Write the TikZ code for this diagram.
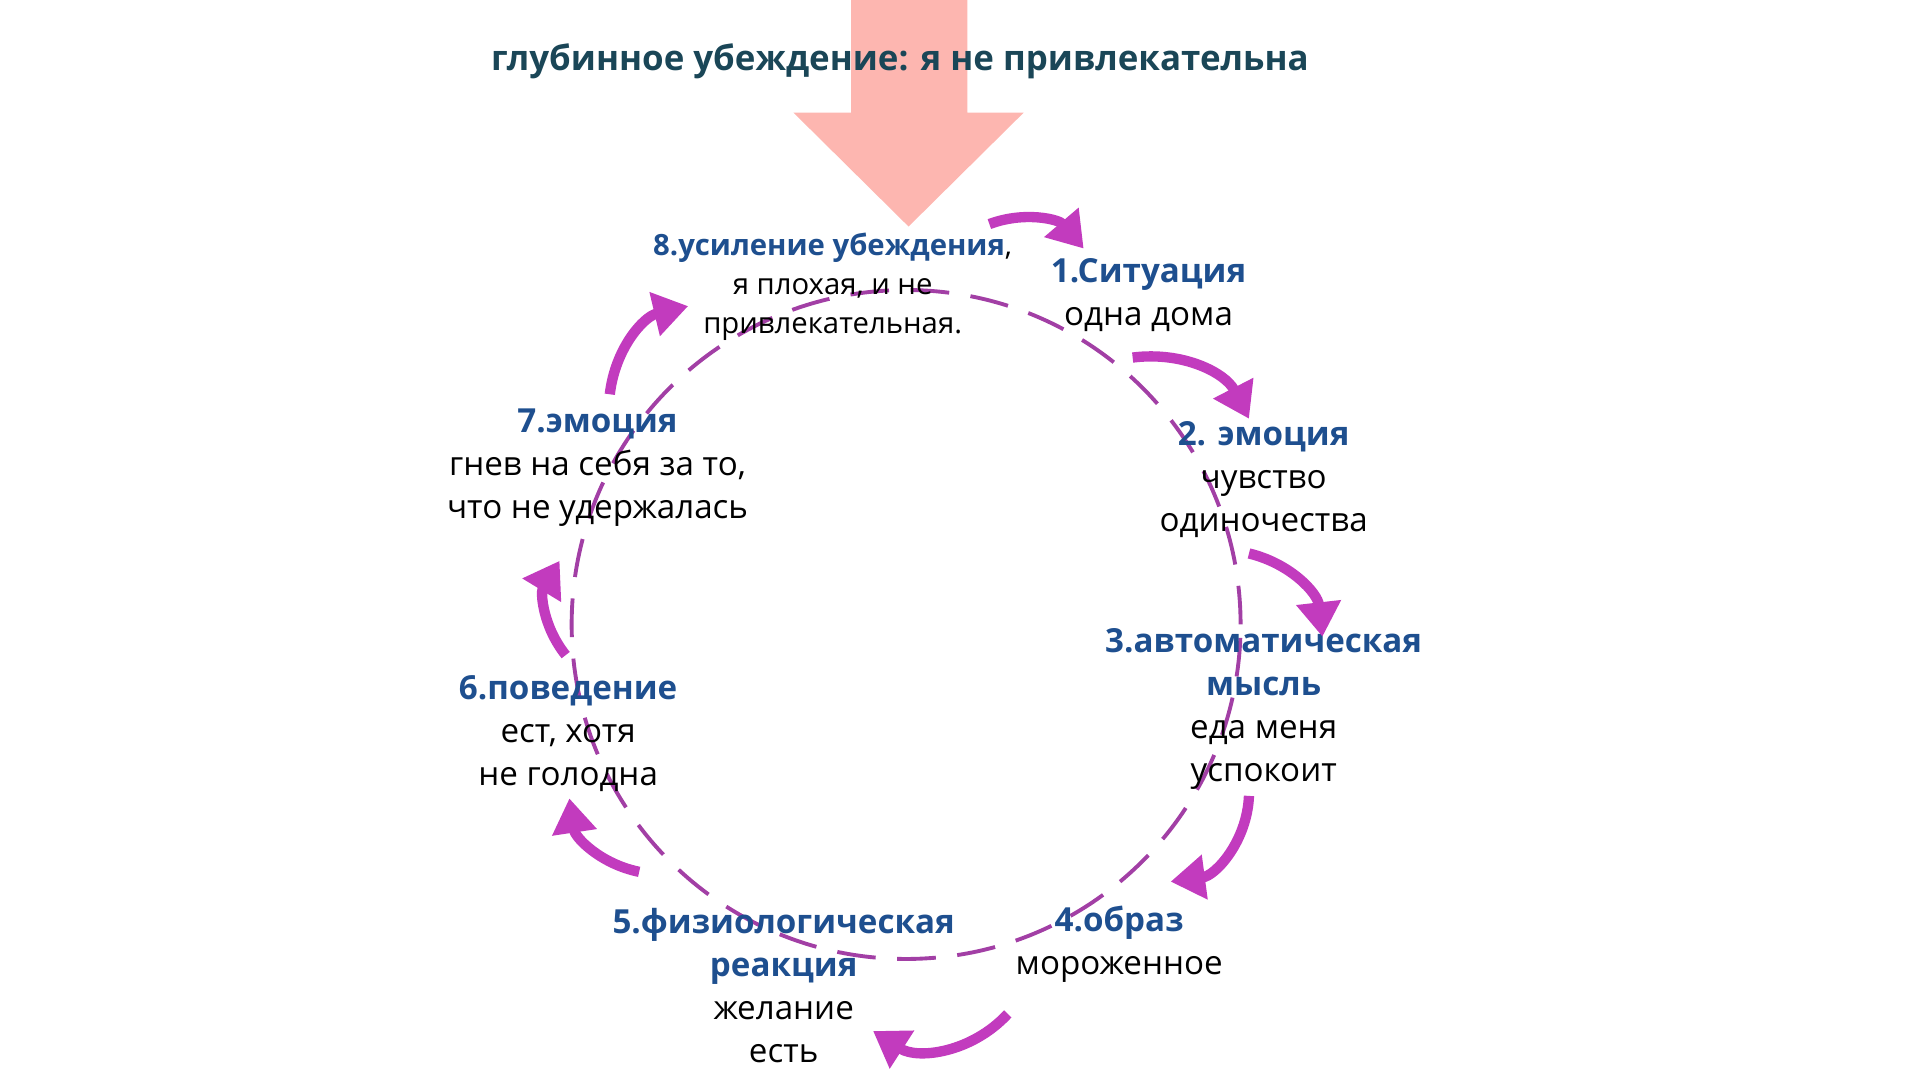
\documentclass[tikz,border=0pt]{standalone}
\usepackage{fontspec}
\setmainfont{Open Sans}
\usetikzlibrary{arrows.meta}
\definecolor{stepblue}{HTML}{1E4F8F}
\definecolor{loopmag}{HTML}{C23BBE}
\definecolor{ringpurple}{HTML}{A23FA5}
\definecolor{beliefpink}{HTML}{FDB6B0}
\definecolor{titleteal}{HTML}{1A4657}
\newcommand{\stephead}[1]{{\color{stepblue}\bfseries #1}}
\begin{document}
\begin{tikzpicture}[x=0.01cm, y=-0.01cm,
    stage/.style={align=center, font=\fontsize{7.7}{10}\selectfont, inner sep=0pt},
    cyclearrow/.style={loopmag, line width=2.4pt, -{Triangle[length=8pt,width=10pt]}}]
    \useasboundingbox (0,0) rectangle (1568,882);

    % big arrow of the belief
    \fill[beliefpink] (695,0) -- (790,0) -- (790,92) -- (836,92) -- (742,185)
        -- (648,92) -- (695,92) -- cycle;
    \node[font=\fontsize{8.1}{10}\bfseries, text=titleteal, inner sep=0pt] (title) at (735,50)
        {глубинное убеждение: я не привлекательна};

    % the ring
    \node[circle, draw=ringpurple, line width=0.9pt, dash pattern=on 9pt off 5pt,
        minimum size=5.46cm] (ring) at (740,510) {};

    \node[stage, font=\fontsize{6.8}{9.1}\selectfont] (s8) at (680,234)
        {\stephead{8.усиление убеждения},\\я плохая, и не\\привлекательная.};
    \node[stage] (s1) at (938,241) {\stephead{1.Ситуация}\\одна дома};
    \node[stage] (s2) at (1032,392) {\stephead{2. эмоция}\\чувство\\одиночества};
    \node[stage] (s3) at (1032,579) {\stephead{3.автоматическая}\\\stephead{мысль}\\еда меня\\успокоит};
    \node[stage] (s4) at (914,771) {\stephead{4.образ}\\мороженное};
    \node[stage] (s5) at (640,805) {\stephead{5.физиологическая}\\\stephead{реакция}\\желание\\есть};
    \node[stage] (s6) at (464,599) {\stephead{6.поведение}\\ест, хотя\\не голодна};
    \node[stage] (s7) at (488,382) {\stephead{7.эмоция}\\гнев на себя за то,\\что не удержалась};

    % arrows between the steps
    \coordinate (a1) at (808,183); \coordinate (b1) at (885,203);
    \coordinate (a2) at (925,292); \coordinate (b2) at (1020,342);
    \coordinate (a3) at (1020,452); \coordinate (b3) at (1080,520);
    \coordinate (a4) at (1020,650); \coordinate (b4) at (956,720);
    \coordinate (a5) at (823,828); \coordinate (b5) at (713,842);
    \coordinate (a6) at (522,712); \coordinate (b6) at (465,652);
    \coordinate (a7) at (462,535); \coordinate (b7) at (457,458);
    \coordinate (a8) at (498,322); \coordinate (b8) at (562,250);

    \draw[cyclearrow, bend left=35] (a1) to (b1);
    \draw[cyclearrow, bend left=35] (a2) to (b2);
    \draw[cyclearrow, bend left=35] (a3) to (b3);
    \draw[cyclearrow, bend left=40] (a4) to (b4);
    \draw[cyclearrow, bend left=40] (a5) to (b5);
    \draw[cyclearrow, bend left=35] (a6) to (b6);
    \draw[cyclearrow, bend left=35] (a7) to (b7);
    \draw[cyclearrow, bend left=35] (a8) to (b8);
\end{tikzpicture}
\end{document}
